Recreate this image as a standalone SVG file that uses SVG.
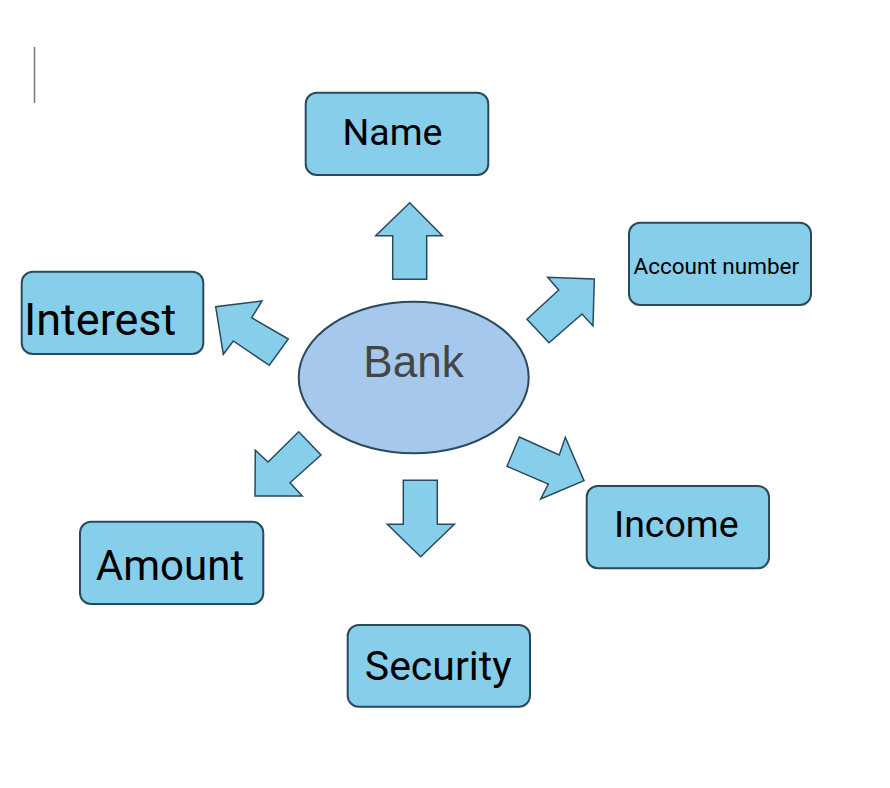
<svg xmlns="http://www.w3.org/2000/svg" width="890" height="788" viewBox="0 0 890 788">
<style>
.box{fill:#87ceeb;stroke:#2a4a5c;stroke-width:2}
.arr{fill:#87ceeb;stroke:#2a4a5c;stroke-width:1.5;stroke-linejoin:miter}
.lbl{font-family:Roboto,"Liberation Sans",sans-serif;fill:#000}
</style>
<rect x="0" y="0" width="890" height="788" fill="#ffffff"/>
<line x1="34.5" y1="47" x2="34.5" y2="103" stroke="#777" stroke-width="1.5"/>
<g id="connectors">
<path class="arr" d="M409.7,202.7 L442.3,235.7 L426.7,235.7 L426.7,279.3 L392.7,279.3 L392.7,235.7 L375.7,235.7 Z"/>
<path class="arr" d="M403.3,480.3 L437.3,480.3 L437.3,524.3 L454.3,524.3 L420.7,556.7 L387.3,524.3 L403.3,524.3 Z"/>
<path class="arr" d="M527,319.3 L558.7,290 L547.7,277.3 L594.3,279 L593,326 L582,314 L549,342.7 Z"/>
<path class="arr" d="M288.3,339 L251.7,317.7 L262,301 L215.7,306.7 L223.3,354.3 L233.3,341 L269.3,365.3 Z"/>
<path class="arr" d="M298.7,431.7 L321,455 L290,482.7 L302.3,496 L255,496 L255.3,450.3 L268,462 Z"/>
<path class="arr" d="M519.3,437 L559.3,455 L565.3,437.3 L584,480.7 L540.7,499 L548.3,484 L507,466.3 Z"/>
</g>
<g id="bank">
<ellipse cx="413.7" cy="377.5" rx="115" ry="75.8" fill="#a6c8ec" stroke="#2a4a5c" stroke-width="2"/>
<text x="413.5" y="377.3" text-anchor="middle" font-family="'Liberation Sans',Arial,sans-serif" font-size="44" fill="#454545">Bank</text>
</g>
<g id="name">
<rect class="box" x="305.7" y="92.7" width="182.6" height="82.3" rx="11"/>
<text class="lbl" x="392.5" y="145" text-anchor="middle" font-size="37.5">Name</text>
</g>
<g id="account-number">
<rect class="box" x="629" y="222.7" width="182" height="82.3" rx="11"/>
<text class="lbl" x="716.3" y="274.3" text-anchor="middle" font-size="22.5">Account number</text>
</g>
<g id="interest">
<rect class="box" x="21.7" y="271.7" width="181.6" height="82.3" rx="11"/>
<text class="lbl" x="24" y="335" font-size="45">Interest</text>
</g>
<g id="income">
<rect class="box" x="586.7" y="486" width="182.3" height="82.3" rx="11"/>
<text class="lbl" x="676.3" y="537.3" text-anchor="middle" font-size="37.5">Income</text>
</g>
<g id="amount">
<rect class="box" x="80" y="521.7" width="183.3" height="82.3" rx="11"/>
<text class="lbl" x="170" y="580" text-anchor="middle" font-size="42">Amount</text>
</g>
<g id="security">
<rect class="box" x="347.7" y="625" width="182.3" height="81.7" rx="11"/>
<text class="lbl" x="438.2" y="680" text-anchor="middle" font-size="41">Security</text>
</g>
</svg>
